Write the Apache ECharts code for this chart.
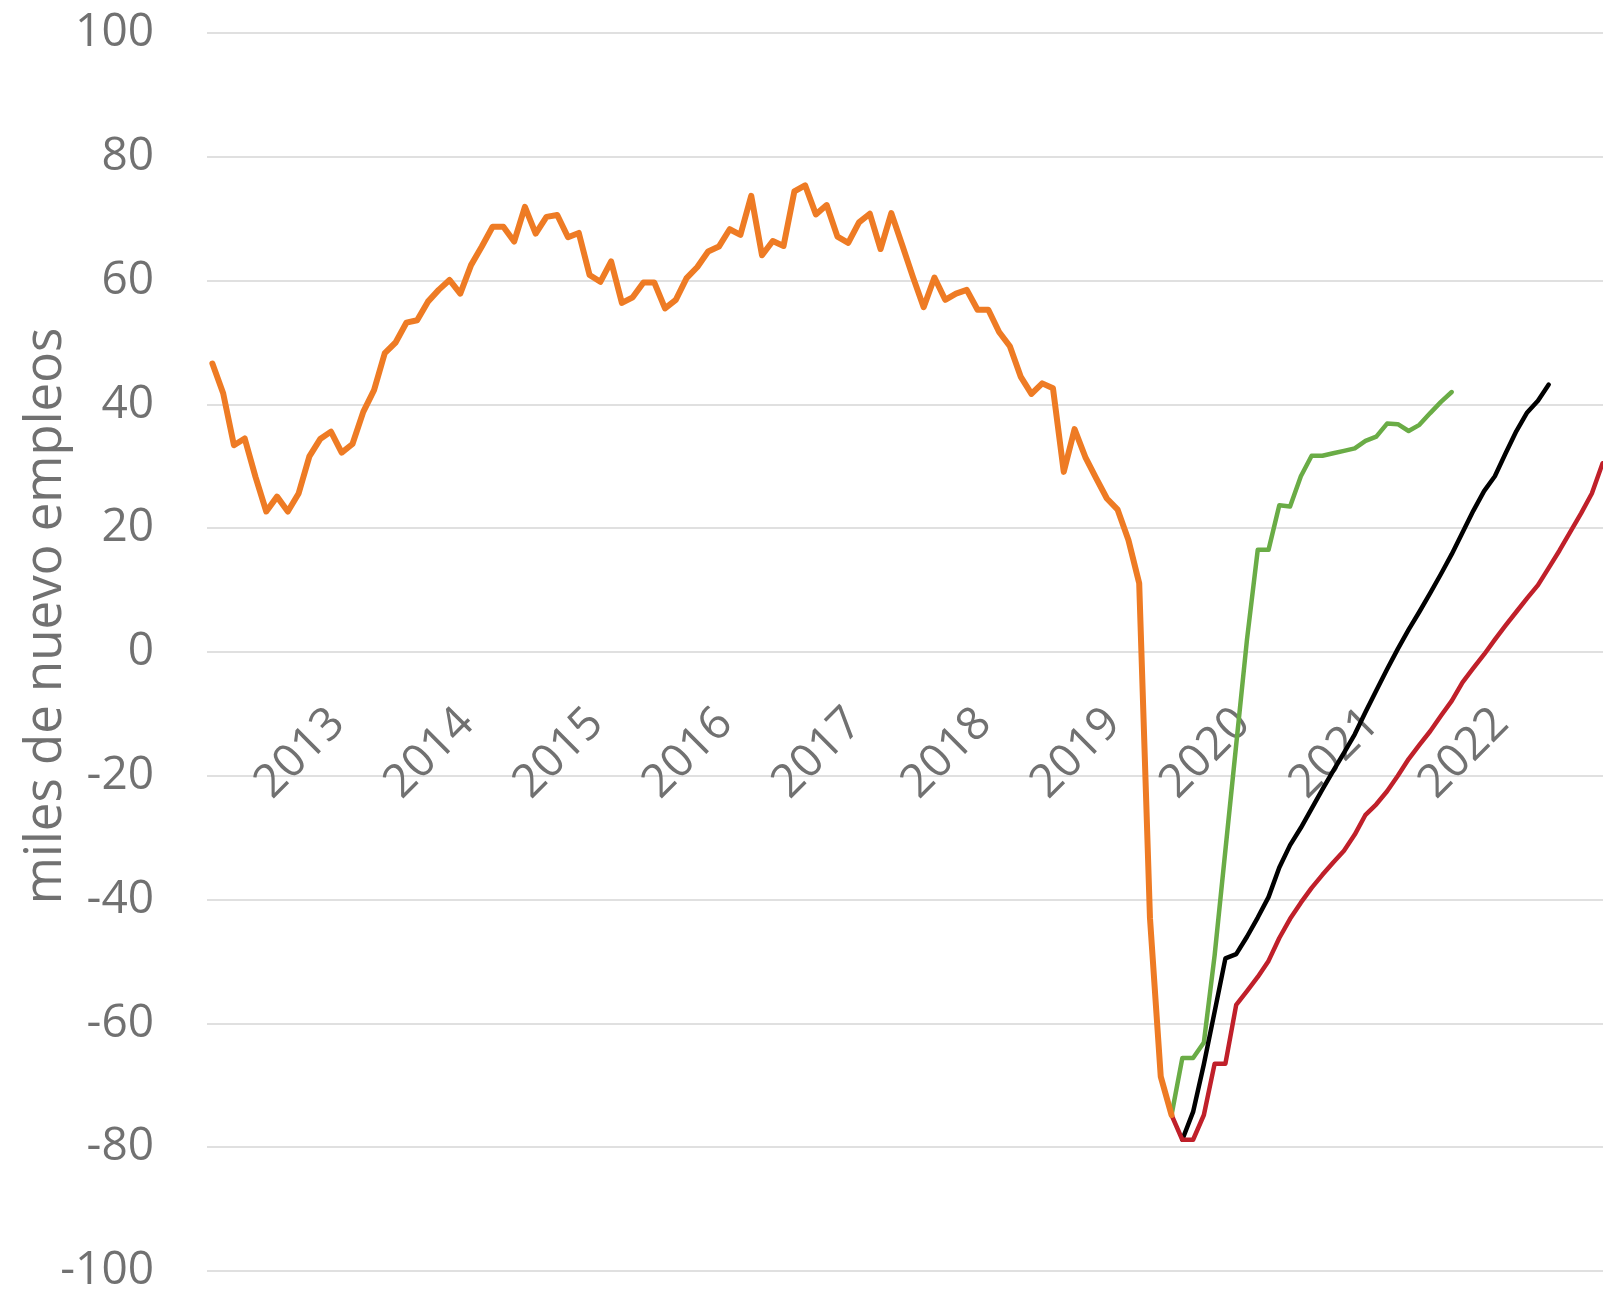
<!DOCTYPE html>
<html lang="es">

<head>
    <meta charset="UTF-8">
    <title>miles de nuevo empleos</title>
    <script src="https://cdn.jsdelivr.net/npm/echarts@6.0.0/dist/echarts.min.js"></script>
    <style>
        html, body { margin: 0; padding: 0; background: #fff; }
        #main { width: 1603px; height: 1289px; }
    </style>
</head>

<body>
    <div id="main"></div>

    <script>
        // meses: ene-2012 ... oct-2022 (130 categorías)
        var years = ['2012', '2013', '2014', '2015', '2016', '2017', '2018', '2019', '2020', '2021', '2022'];
        var monthNames = ['01', '02', '03', '04', '05', '06', '07', '08', '09', '10', '11', '12'];
        var months = [];
        years.forEach(function (y) {
            monthNames.forEach(function (m) { months.push(y + '-' + m); });
        });
        months = months.slice(0, 130);

        // serie histórica (naranja)
        var orangeStart = 0;
        var orangeValues = [46.6, 41.8, 33.4, 34.5, 28.3, 22.7, 25.1, 22.7, 25.6, 31.6,
            34.4, 35.6, 32.2, 33.6, 38.8, 42.3, 48.3, 50.0, 53.2, 53.6,
            56.6, 58.5, 60.1, 57.9, 62.5, 65.5, 68.7, 68.7, 66.3, 71.9,
            67.6, 70.3, 70.6, 67.0, 67.7, 60.9, 59.8, 63.1, 56.4, 57.3,
            59.7, 59.7, 55.5, 56.9, 60.4, 62.2, 64.7, 65.5, 68.3, 67.4,
            73.7, 64.1, 66.4, 65.6, 74.4, 75.4, 70.7, 72.2, 67.1, 66.1,
            69.4, 70.8, 65.1, 70.9, 65.8, 60.6, 55.7, 60.5, 56.9, 57.9,
            58.5, 55.3, 55.3, 51.7, 49.4, 44.5, 41.7, 43.4, 42.6, 29.1,
            36.0, 31.5, 28.1, 24.8, 23.0, 18.1, 11.1, -43.0, -68.6, -74.8];

        // escenario verde
        var greenStart = 89;
        var greenValues = [-74.8, -65.6, -65.6, -63.1, -49, -32, -15, 2, 16.5, 16.5,
            23.7, 23.5, 28.4, 31.7, 31.7, 32.1, 32.5, 32.9, 34.1, 34.8,
            36.9, 36.8, 35.7, 36.7, 38.6, 40.4, 42.0];

        // escenario negro
        var blackStart = 90;
        var blackValues = [-78.8, -74.3, -66.6, -58.1, -49.5, -48.8, -46.0, -42.9, -39.6, -34.8,
            -31.2, -28.4, -25.3, -22.2, -19.2, -16.3, -13.3, -9.7, -6.2, -2.8,
            0.5, 3.6, 6.5, 9.5, 12.6, 15.8, 19.3, 22.8, 26.0, 28.4,
            32.1, 35.7, 38.7, 40.6, 43.2];

        // escenario rojo
        var redStart = 89;
        var redValues = [-74.8, -78.8, -78.8, -74.8, -66.5, -66.5, -57.0, -54.8, -52.5, -49.9,
            -46.2, -43.1, -40.5, -38.1, -36.0, -34.0, -32.1, -29.5, -26.3, -24.6,
            -22.5, -20.0, -17.3, -15.0, -12.8, -10.3, -7.9, -4.9, -2.6, -0.4,
            2.0, 4.3, 6.5, 8.7, 10.8, 13.6, 16.4, 19.4, 22.4, 25.6,
            30.5];

        // rellena con null hasta el mes de inicio
        function padSeries(start, values) {
            var arr = [];
            for (var i = 0; i < start; i++) arr.push(null);
            return arr.concat(values);
        }

        var textColor = '#717171';
        var font = 'Open Sans';

        var myChart = echarts.init(document.getElementById('main'));

        var option = {
            animation: false,
            backgroundColor: '#fff',
            grid: {
                left: 207,
                right: -5,
                top: 33,
                bottom: 18,
                containLabel: false,
                outerBoundsMode: 'none'
            },
            xAxis: {
                type: 'category',
                data: months,
                boundaryGap: true,
                position: 'bottom',
                // el eje se sube hasta la línea del 0
                offset: -619,
                axisLine: { show: false, onZero: false },
                axisTick: { show: false },
                splitLine: { show: false },
                axisLabel: {
                    show: true,
                    interval: 11,
                    rotate: 45,
                    margin: 60,
                    padding: [0, 6, 8, 0],
                    color: textColor,
                    fontFamily: font,
                    fontSize: 46,
                    formatter: function (v, i) {
                        return (i > 0 && i % 12 === 0) ? v.slice(0, 4) : '';
                    }
                }
            },
            yAxis: {
                type: 'value',
                min: -100,
                max: 100,
                interval: 20,
                name: 'miles de nuevo empleos',
                nameLocation: 'middle',
                nameRotate: 90,
                nameGap: 135,
                nameMoveOverlap: false,
                nameTextStyle: {
                    color: textColor,
                    fontFamily: font,
                    fontSize: 51,
                    padding: [0, 0, 0, 72]
                },
                axisLine: { show: false },
                axisTick: { show: false },
                axisLabel: {
                    margin: 53,
                    color: textColor,
                    fontFamily: font,
                    fontSize: 46,
                    padding: [6, 0, 0, 0]
                },
                splitLine: { lineStyle: { color: '#e0e0e0', width: 2 } }
            },
            series: [
                {
                    name: 'verde',
                    type: 'line',
                    data: padSeries(greenStart, greenValues),
                    symbol: 'none',
                    lineStyle: { color: '#6aac46', width: 4.5, join: 'round', cap: 'round' }
                },
                {
                    name: 'negro',
                    type: 'line',
                    data: padSeries(blackStart, blackValues),
                    symbol: 'none',
                    lineStyle: { color: '#000000', width: 4.5, join: 'round', cap: 'round' }
                },
                {
                    name: 'rojo',
                    type: 'line',
                    data: padSeries(redStart, redValues),
                    symbol: 'none',
                    lineStyle: { color: '#c0202a', width: 4.5, join: 'round', cap: 'round' }
                },
                {
                    name: 'naranja',
                    type: 'line',
                    data: padSeries(orangeStart, orangeValues),
                    symbol: 'none',
                    lineStyle: { color: '#ee7b24', width: 6, join: 'round', cap: 'round' }
                }
            ]
        };

        myChart.setOption(option);
        window.onresize = myChart.resize;
    </script>
</body>

</html>
